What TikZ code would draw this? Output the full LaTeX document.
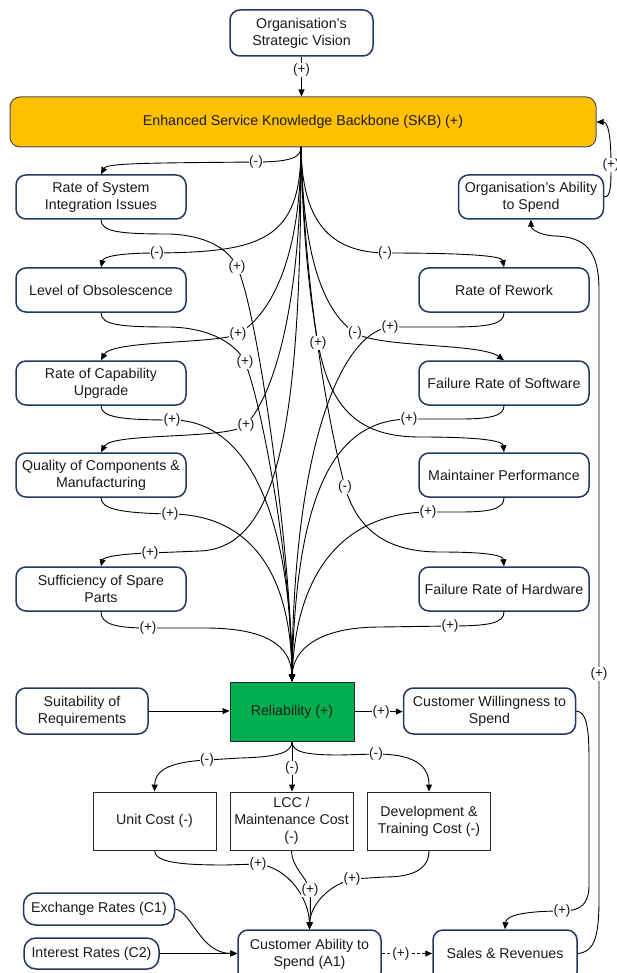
\documentclass[tikz,border=0pt]{standalone}
\usepackage{fontspec}
\setmainfont{Liberation Sans}
\usetikzlibrary{arrows.meta}
\definecolor{navy}{HTML}{1F3864}
\definecolor{skbfill}{HTML}{FFC000}
\definecolor{relfill}{HTML}{00B050}
\definecolor{txt}{HTML}{1A1A1A}
\begin{document}
\begin{tikzpicture}[x=1pt,y=-1pt,
  base/.style={align=center, font=\fontsize{14.2}{16.8}\selectfont, text=txt, inner sep=2pt},
  rbox/.style={base, draw=navy, line width=1.5pt, rounded corners=10pt, fill=white, minimum width=#1, minimum height=44pt},
  rbox/.default=170,
  sbox/.style={base, draw=black!85, line width=0.9pt, fill=white, minimum width=123pt, minimum height=58pt},
  skbbox/.style={base, draw=black!70, line width=1pt, rounded corners=10pt, fill=skbfill, minimum width=586pt, minimum height=50pt},
  relbox/.style={base, draw=black!85, line width=1pt, fill=relfill, minimum width=124pt, minimum height=59pt},
  arr/.style={-{Triangle[length=7pt,width=6pt]}, line width=0.9pt, draw=black},
  lab/.style={fill=white, inner sep=0.6pt, text=txt, font=\fontsize{13.6}{15}\selectfont}
]
\useasboundingbox (0,0) rectangle (616,973);

% ---------- nodes ----------
\node[rbox=143, minimum height=46pt] (vision) at (301.5,33) {Organisation’s\\Strategic Vision};
\node[skbbox] (skb) at (303,122) {Enhanced Service Knowledge Backbone (SKB) (+)};
\node[rbox=145] (orgab) at (531,197) {Organisation’s Ability\\to Spend};

\node[rbox] (sysint) at (101,197) {Rate of System\\Integration Issues};
\node[rbox] (obs)    at (101,290) {Level of Obsolescence};
\node[rbox] (capup)  at (101,383) {Rate of Capability\\Upgrade};
\node[rbox] (qual)   at (101,475) {Quality of Components \&\\Manufacturing};
\node[rbox] (spare)  at (101,589) {Sufficiency of Spare\\Parts};

\node[rbox] (rework) at (504,290) {Rate of Rework};
\node[rbox] (swfr)   at (504,383) {Failure Rate of Software};
\node[rbox] (maint)  at (504,475) {Maintainer Performance};
\node[rbox] (hwfr)   at (504,589) {Failure Rate of Hardware};

\node[rbox=132, minimum height=46pt] (suit) at (82,711) {Suitability of\\Requirements};
\node[relbox] (rel) at (292,711.5) {Reliability (+)};
\node[rbox=172, minimum height=46pt] (cwill) at (489.5,711) {Customer Willingness to\\Spend};

\node[sbox] (unit) at (154.5,821) {Unit Cost (-)};
\node[sbox] (lcc)  at (291.5,821) {LCC /\\Maintenance Cost\\(-)};
\node[sbox] (dev)  at (429,821) {Development \&\\Training Cost (-)};

\node[rbox=151, minimum height=32pt, rounded corners=12pt] (exch) at (99,909) {Exchange Rates (C1)};
\node[rbox=135, minimum height=31pt, rounded corners=12pt] (intr) at (91.5,953.5) {Interest Rates (C2)};
\node[rbox=143, minimum height=52pt, text depth=6pt] (cabil) at (309.5,956) {Customer Ability to\\Spend (A1)};
\node[rbox=144, minimum height=52pt, text depth=6pt] (sales) at (505,956) {Sales \& Revenues};

% ---------- top edges ----------
\draw[arr] (vision.south) -- coordinate[pos=0.34] (Lv) (vision.south |- skb.north);
\draw[arr] (orgab.east) .. controls (611,197) and (611,185) .. (611,165) coordinate (Lo)
  .. controls (611,135) and (608,122) .. (skb.east);

% ---------- SKB fan-out ----------
\coordinate (sf) at (301,147);
\draw[arr] (sf) .. controls (301,157) and (292,162) .. (256,162) coordinate (La)
  .. controls (150,163) and (107,163) .. (sysint.north);
\draw[arr] (sf) .. controls (301,240) and (262,252) .. (157,253) coordinate (Lb)
  .. controls (112,253) and (103,258) .. (obs.north);
\draw[arr] (sf) .. controls (302,222) and (330,252) .. (385,253) coordinate (Lc)
  .. controls (470,253) and (502,256) .. (rework.north);
\draw[arr] (sf) .. controls (301,250) and (275,312) .. (238,334) coordinate (Ld)
  .. controls (218,344) and (112,340) .. (capup.north);
\draw[arr] (sf) .. controls (301,300) and (276,392) .. (246,425) coordinate (Le)
  .. controls (228,440) and (112,432) .. (qual.north);
\draw[arr] (sf) .. controls (301,420) and (280,548) .. (200,551) -- (150,553) coordinate (Lf)
  .. controls (114,554) and (103,558) .. (spare.north);
\draw[arr] (sf) .. controls (303,262) and (325,312) .. (355,333) coordinate (Lg)
  .. controls (380,348) and (480,343) .. (swfr.north);
\draw[arr] (sf) .. controls (303,250) and (312,310) .. (318,343) coordinate (Lh)
  .. controls (330,410) and (360,437) .. (420,437) .. controls (490,437) and (503,442) .. (maint.north);
\draw[arr] (sf) .. controls (305,300) and (330,430) .. (345,487) coordinate (Li)
  .. controls (360,540) and (400,552) .. (440,552) .. controls (492,552) and (503,556) .. (hwfr.north);

% ---------- fan-in to Reliability ----------
\draw[arr] (sysint.south) .. controls (101,232) and (120,234) .. (170,234)
  .. controls (215,236) and (232,255) .. (237,267) coordinate (Lj)
  .. controls (258,310) and (292,560) .. (rel.north);
\draw[arr] (obs.south) .. controls (101,325) and (120,327) .. (170,327)
  .. controls (212,328) and (237,345) .. (245,362) coordinate (Lk)
  .. controls (262,405) and (291,560) .. (rel.north);
\draw[arr] (capup.south) .. controls (101,417) and (120,420) .. (172,420) coordinate (Ll)
  .. controls (250,420) and (291,520) .. (rel.north);
\draw[arr] (qual.south) .. controls (101,509) and (120,513) .. (170,514) coordinate (Lm)
  .. controls (240,514) and (291,560) .. (rel.north);
\draw[arr] (spare.south) .. controls (101,624) and (115,628) .. (148,628) coordinate (Ln)
  -- (205,628) .. controls (265,628) and (291,645) .. (rel.north);
\draw[arr] (rework.south) .. controls (504,324) and (490,327) .. (450,327) -- (390,327) coordinate (Lo2)
  .. controls (340,333) and (293,450) .. (rel.north);
\draw[arr] (swfr.south) .. controls (504,416) and (490,419) .. (460,419) -- (409,419) coordinate (Lp)
  .. controls (340,420) and (296,480) .. (rel.north);
\draw[arr] (maint.south) .. controls (504,509) and (490,512) .. (460,512) -- (428,512) coordinate (Lq)
  .. controls (345,513) and (296,570) .. (rel.north);
\draw[arr] (hwfr.south) .. controls (504,623) and (490,626) .. (450,626) coordinate (Lr)
  -- (380,627) .. controls (318,627) and (293,650) .. (rel.north);

% ---------- bottom ----------
\draw[arr] (suit.east) -- (suit.east -| rel.west);
\draw[arr] (rel.east) -- coordinate[pos=0.55] (Lrc) (rel.east -| cwill.west);
\draw[arr] (rel.south) .. controls (292,752) and (280,757) .. (240,758) -- (207,760) coordinate (Ls)
  .. controls (166,762) and (155,772) .. (unit.north);
\draw[arr] (rel.south) -- coordinate[pos=0.53] (Lt) (rel.south |- lcc.north);
\draw[arr] (rel.south) .. controls (292,752) and (305,755) .. (340,755) -- (376,754) coordinate (Lu)
  .. controls (418,754) and (429,768) .. (dev.north);

\coordinate (cin) at (309.5,930);
\draw[arr] (unit.south) .. controls (155,862) and (178,865) .. (225,865) -- (258,864) coordinate (Lv2)
  .. controls (290,868) and (309,900) .. (cabil.north);
\draw[arr] (lcc.south) .. controls (292,868) and (306,876) .. (310,890) coordinate (Lw)
  .. controls (311,905) and (310,920) .. (cabil.north);
\draw[arr] (dev.south) .. controls (429,868) and (415,877) .. (385,877) -- (352,879) coordinate (Lx)
  .. controls (322,888) and (310,910) .. (cabil.north);
\draw[arr] (exch.east) .. controls (192,912) and (200,953) .. (cabil.west |- intr.east);
\draw[arr] (intr.east) -- (intr.east -| cabil.west);
\draw[arr, dash pattern=on 3pt off 2pt] (cabil.east |- intr.east) -- coordinate[pos=0.38] (Ly) (sales.west |- intr.east);

\draw[arr] (cwill.east) .. controls (586,712) and (589,725) .. (589,760) -- (589,885)
  .. controls (589,905) and (580,911) .. (562,911) coordinate (Lz)
  .. controls (522,911) and (506,916) .. (sales.north);
\draw[arr] (sales.east |- intr.east) .. controls (593,952) and (599,940) .. (599,900) -- (599,674) coordinate (Lsa)
  -- (599,290) .. controls (599,250) and (585,237) .. (555,236)
  .. controls (537,235) and (531,228) .. (orgab.south);

% ---------- labels ----------
\foreach \c in {Lv,Lo,Ld,Le,Lf,Lh,Lj,Lk,Ll,Lm,Ln,Lo2,Lp,Lq,Lr,Lrc,Lv2,Lw,Lx,Ly,Lz,Lsa}
  \node[lab] at (\c) {(+)};
\foreach \c in {La,Lb,Lc,Lg,Li,Ls,Lt,Lu}
  \node[lab] at (\c) {(-)};
\end{tikzpicture}
\end{document}
